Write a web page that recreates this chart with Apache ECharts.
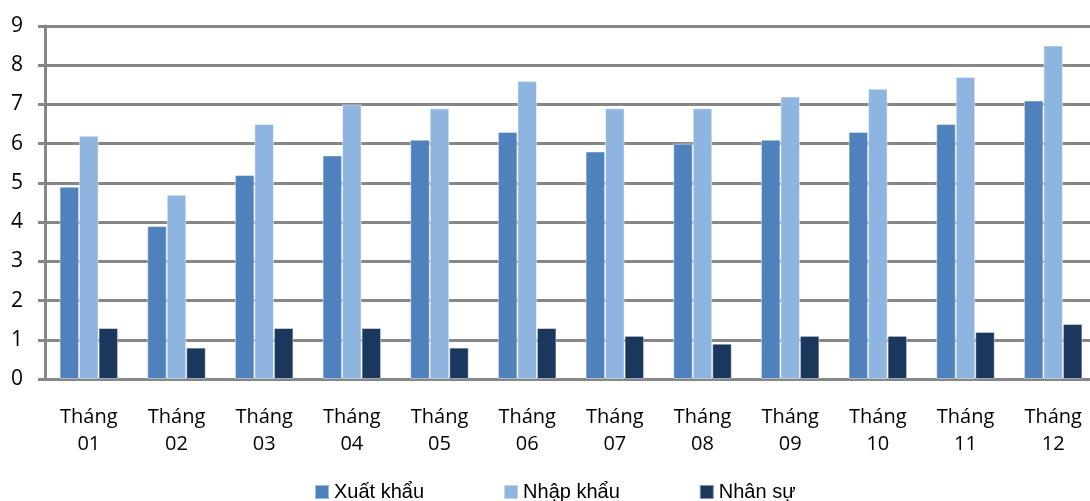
<!DOCTYPE html>
<html>
<head>
<meta charset="utf-8">
<script src="https://cdn.jsdelivr.net/npm/echarts@6/dist/echarts.min.js"></script>
<style>
  html, body { margin: 0; padding: 0; background: #fff; }
  #chart { width: 1090px; height: 501px; }
</style>
</head>
<body>
<div id="chart"></div>
<script>
// Monthly figures per series
const months = ['Tháng\n01', 'Tháng\n02', 'Tháng\n03', 'Tháng\n04', 'Tháng\n05', 'Tháng\n06',
                'Tháng\n07', 'Tháng\n08', 'Tháng\n09', 'Tháng\n10', 'Tháng\n11', 'Tháng\n12'];
const xuatKhau = [4.9, 3.9, 5.2, 5.7, 6.1, 6.3, 5.8, 6.0, 6.1, 6.3, 6.5, 7.1];
const nhapKhau = [6.2, 4.7, 6.5, 7.0, 6.9, 7.6, 6.9, 6.9, 7.2, 7.4, 7.7, 8.5];
const nhanSu   = [1.3, 0.8, 1.3, 1.3, 0.8, 1.3, 1.1, 0.9, 1.1, 1.1, 1.2, 1.4];
const seriesNames = ['Xuất khẩu', 'Nhập khẩu', 'Nhân sự'];

const gridGray = '#878787';
const labelFont = '"Open Sans", "Noto Sans", sans-serif';

const chart = echarts.init(document.getElementById('chart'), null, { renderer: 'canvas' });

function barSeries(name, data, color) {
  return {
    name: name,
    type: 'bar',
    data: data,
    barWidth: 19.5,
    barGap: '0%',
    itemStyle: { color: color, borderColor: 'rgba(255,255,255,0.45)', borderWidth: 1 }
  };
}

chart.setOption({
  animation: false,
  // plot area runs slightly past the right edge of the canvas
  grid: { left: 45, width: 1052, top: 26, height: 353, containLabel: false, outerBoundsMode: 'none' },
  legend: {
    data: seriesNames,
    left: 314,
    top: 482,
    padding: 0,
    itemWidth: 14,
    itemHeight: 14,
    itemGap: 79,
    icon: 'rect',
    textStyle: { fontFamily: '"Liberation Sans", Arial, sans-serif', fontSize: 20, color: '#000', padding: [0, 0, 0, 0] }
  },
  xAxis: {
    type: 'category',
    data: months,
    axisLine: { show: true, lineStyle: { color: gridGray, width: 3 } },
    axisTick: { show: false },
    axisLabel: {
      interval: 0,
      margin: 25,
      fontFamily: labelFont,
      fontSize: 20,
      lineHeight: 27,
      color: '#000'
    }
  },
  yAxis: {
    type: 'value',
    min: 0,
    max: 9,
    interval: 1,
    axisLine: { show: true, lineStyle: { color: gridGray, width: 3 } },
    axisTick: { show: true, length: 7, lineStyle: { color: gridGray, width: 3 } },
    axisLabel: { margin: 22, fontFamily: labelFont, fontSize: 21, color: '#000' },
    splitLine: { show: true, lineStyle: { color: gridGray, width: 3 } }
  },
  series: [
    barSeries(seriesNames[0], xuatKhau, '#4F81BD'),
    barSeries(seriesNames[1], nhapKhau, '#8EB4E0'),
    barSeries(seriesNames[2], nhanSu, '#1B375E')
  ]
});
</script>
</body>
</html>
